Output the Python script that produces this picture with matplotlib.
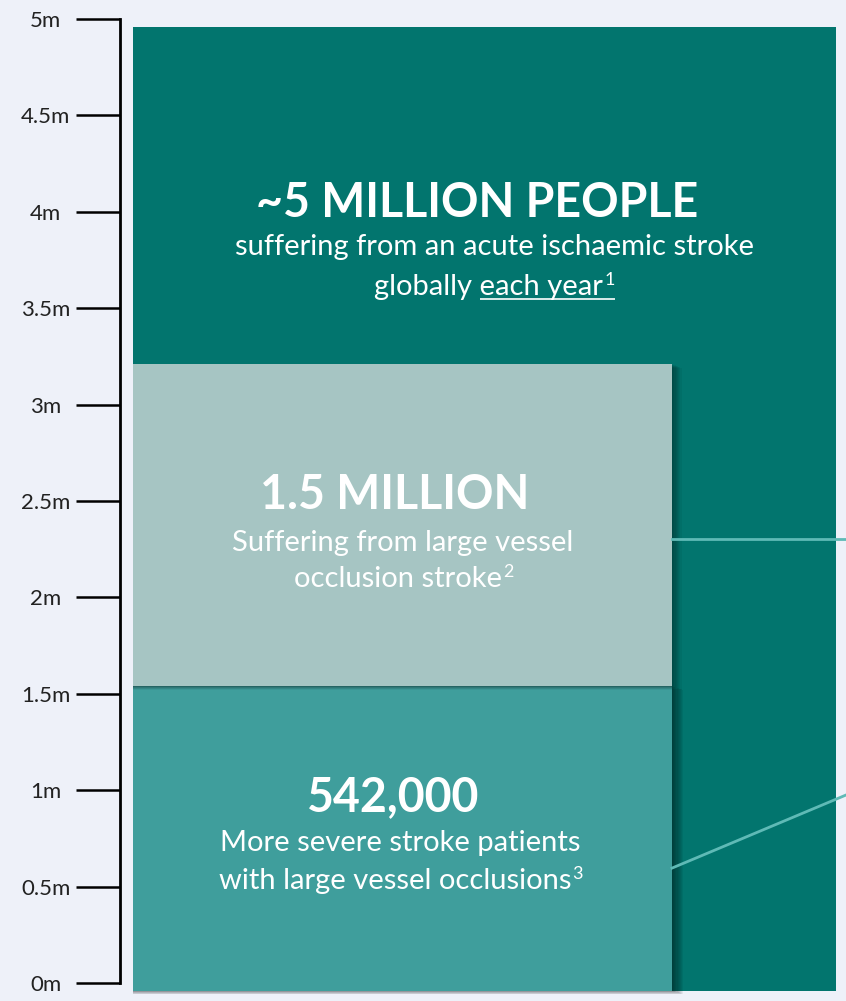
import numpy as np
import matplotlib
matplotlib.use("Agg")
import matplotlib.pyplot as plt
from matplotlib.patches import Rectangle

plt.rcParams['font.family'] = ['Lato', 'DejaVu Sans']

# Tick values on the scale (millions)
tick_vals = [0, 0.5, 1, 1.5, 2, 2.5, 3, 3.5, 4, 4.5, 5]
tick_labels = ['0m', '0.5m', '1m', '1.5m', '2m', '2.5m', '3m', '3.5m', '4m', '4.5m', '5m']

# Blocks as drawn against the scale (bottom, top in millions)
block_names = ['global', 'lvo', 'severe_lvo']
block_bottom = [-0.04, 1.54, -0.04]
block_top = [4.96, 3.21, 1.54]
block_colors = ['#02756e', '#a6c5c3', '#3f9e9c']

headlines = ['~5 MILLION PEOPLE', '1.5 MILLION', '542,000']
# each line: (text, superscript)
sublines = [
    [('suffering from an acute ischaemic stroke', ''), ('globally each year', '1')],
    [('Suffering from large vessel', ''), ('occlusion stroke', '2')],
    [('More severe stroke patients', ''), ('with large vessel occlusions', '3')],
]

W, H = 846, 1001
fig = plt.figure(figsize=(W / 100, H / 100), dpi=100)
fig.patch.set_facecolor('#eef1f9')

# axes: x in pixels (120..846), y in millions with 0 at px 983 and 5 at px 19
ax = fig.add_axes([120 / W, (H - 983) / H, (W - 120) / W, (983 - 19) / H])
ax.set_xlim(120, W)
ax.set_ylim(0, 5)
ax.patch.set_visible(False)
for s in ['top', 'right', 'bottom']:
    ax.spines[s].set_visible(False)
ax.spines['left'].set_linewidth(2)
ax.spines['left'].set_color('black')
ax.set_xticks([])
ax.set_yticks(tick_vals)
ax.set_yticklabels(tick_labels, fontsize=16, color='#222222', ha='center')
ax.tick_params(axis='y', length=31.5, width=1.8, pad=22, colors='black', labelcolor='#222222')

m_per_px = 5 / (983 - 19)

# big block
ax.add_patch(Rectangle((133, block_bottom[0]), 836 - 133, block_top[0] - block_bottom[0],
                       facecolor=block_colors[0], edgecolor='none', clip_on=False, zorder=1))
# bottom block + shadow
for k in range(1, 11):
    ax.add_patch(Rectangle((133, block_bottom[2] - k * 0.35 * m_per_px), (672 - 133) + k * 1.1,
                           block_top[2] - block_bottom[2], facecolor='black', alpha=0.055,
                           edgecolor='none', clip_on=False, zorder=2))
ax.add_patch(Rectangle((133, block_bottom[2]), 672 - 133, block_top[2] - block_bottom[2],
                       facecolor=block_colors[2], edgecolor='none', clip_on=False, zorder=3))
# middle block + shadow
for k in range(1, 9):
    ax.add_patch(Rectangle((133, block_bottom[1] - k * 0.45 * m_per_px), (672 - 133) + k * 1.2,
                           block_top[1] - block_bottom[1], facecolor='black', alpha=0.05,
                           edgecolor='none', clip_on=False, zorder=4))
ax.add_patch(Rectangle((133, block_bottom[1]), 672 - 133, block_top[1] - block_bottom[1],
                       facecolor=block_colors[1], edgecolor='none', clip_on=False, zorder=5))

# connector lines
ax.plot([672, W], [2.303, 2.303], color='#5fbab6', lw=2, clip_on=False, zorder=6)
ax.plot([672, W], [0.596, 0.975], color='#5fbab6', lw=2, clip_on=False, zorder=6)

fig.canvas.draw()
r = fig.canvas.get_renderer()
inv = ax.transData.inverted()


def text_w(s, size, weight='normal'):
    t = ax.text(0, 0, s, fontsize=size, fontweight=weight)
    w = t.get_window_extent(r).width
    t.remove()
    return w


head_pos = [(477, 4.045), (395, 2.530), (393, 0.965)]
sub_pos = [[(494, 3.817), (494, 3.610)], [(403, 2.282), (403, 2.095)], [(400, 0.726), (400, 0.529)]]
HEAD_FS, SUB_FS, SUP_FS = 33.5, 21, 13
for i in range(3):
    ax.text(head_pos[i][0], head_pos[i][1], headlines[i], ha='center', va='center',
            fontsize=HEAD_FS, fontweight='bold', color='white', zorder=7)
    for j, (line, sup) in enumerate(sublines[i]):
        cx, cy = sub_pos[i][j]
        w_main = text_w(line, SUB_FS)
        w_sup = text_w(sup, SUP_FS) if sup else 0
        x0 = cx - (w_main + w_sup) / 2  # x data = px
        t = ax.text(x0, cy, line, ha='left', va='center', fontsize=SUB_FS,
                    color='white', zorder=7)
        if sup:
            ax.text(x0 + w_main + 1, cy + 7 * m_per_px, sup, ha='left', va='center',
                    fontsize=SUP_FS, color='white', zorder=7)
        if i == 0 and j == 1:
            # underline "each year" + superscript
            w_pre = text_w('globally ', SUB_FS)
            bb = t.get_window_extent(r)
            y_line = inv.transform((0, bb.y0 + 1))[1]
            ax.plot([x0 + w_pre, x0 + w_main + w_sup + 1], [y_line, y_line], color='white',
                    lw=1.2, zorder=7, solid_capstyle='butt')

fig.savefig('out.png', dpi=100, facecolor=fig.get_facecolor())
